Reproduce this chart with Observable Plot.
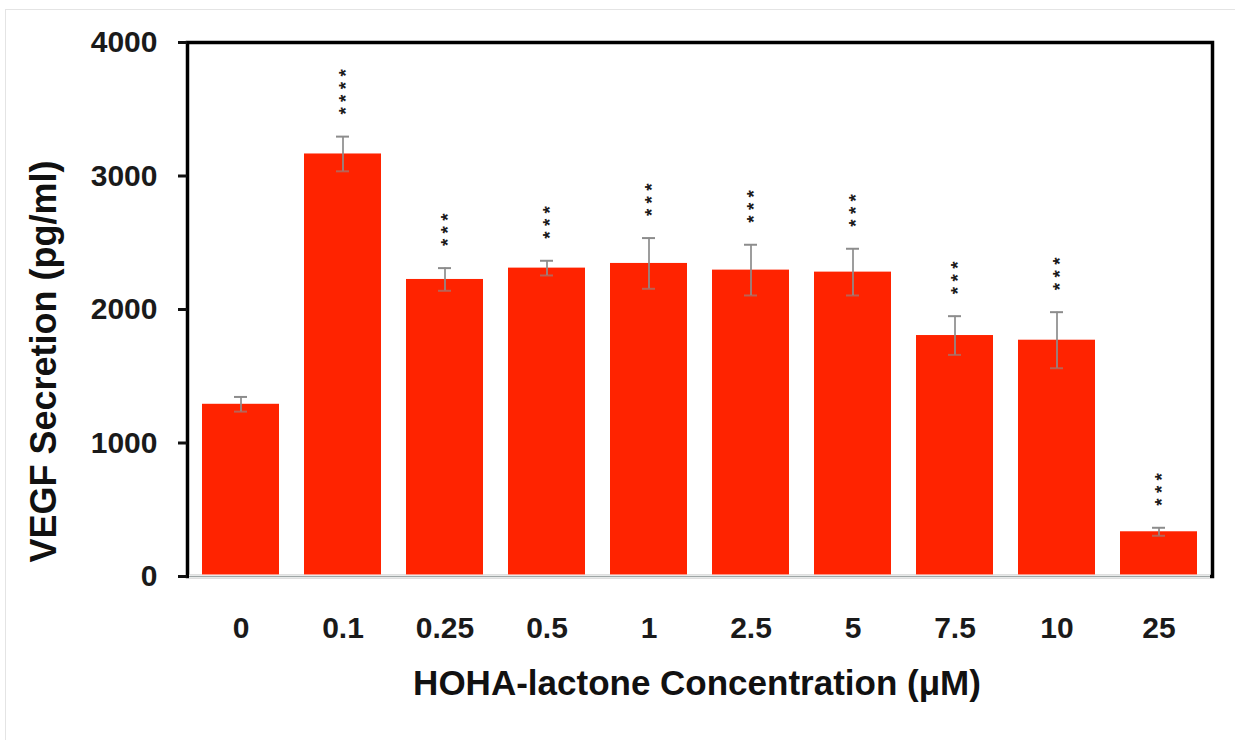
<!DOCTYPE html>
<html><head><meta charset="utf-8">
<script src="https://cdn.jsdelivr.net/npm/d3@7"></script>
<script src="https://cdn.jsdelivr.net/npm/@observablehq/plot@0.6"></script>
<style>
html,body{margin:0;padding:0;background:#fff;}
#wrap{position:relative;width:1235px;height:740px;overflow:hidden;background:#fff;}
#border{position:absolute;left:5px;top:9px;width:1300px;height:800px;border:1px solid #e4e4e4;}
#chart{position:absolute;left:0;top:0;}
</style></head><body>
<div id="wrap"><div id="border"></div><div id="chart"></div></div>
<script>
// Data
const concentrations = ["0", "0.1", "0.25", "0.5", "1", "2.5", "5", "7.5", "10", "25"];
const vegfSecretion = [1290, 3165, 2225, 2310, 2345, 2295, 2280, 1805, 1770, 335];
const errorSEM = [55, 130, 85, 55, 190, 190, 175, 145, 210, 30];
const significance = ["", "****", "***", "***", "***", "***", "***", "***", "***", "***"];
const yTicks = [0, 1000, 2000, 3000, 4000];
const xTitle = "HOHA-lactone Concentration (\u03BCM)";
const yTitle = "VEGF Secretion (pg/ml)";

const rows = concentrations.map((c, i) => ({
  conc: c, value: vegfSecretion[i], err: errorSEM[i], stars: significance[i]
}));

const font = "'Liberation Sans', Arial, Helvetica, sans-serif";

const chart = Plot.plot({
  width: 1235,
  height: 740,
  marginLeft: 187,
  marginRight: 23,
  marginTop: 42,
  marginBottom: 164,
  style: {fontFamily: font, background: "transparent", color: "#111"},
  x: {domain: concentrations, paddingInner: 0.25, paddingOuter: 0.12},
  y: {domain: [0, 4000]},
  marks: [
    Plot.frame({stroke: "#000", strokeWidth: 3.5}),
    Plot.barY(rows, {x: "conc", y: "value", fill: "#ff2300"}),
    Plot.ruleY([0], {stroke: "#fff", strokeWidth: 4, insetLeft: 2, insetRight: 2}),
    Plot.ruleY([0], {stroke: "#9fa6a6", strokeWidth: 1.5, insetLeft: 2, insetRight: 2}),
    Plot.ruleX(rows, {x: "conc", y1: d => d.value - d.err, y2: d => d.value + d.err, stroke: "#8c8c8c", strokeWidth: 2, strokeOpacity: 0.85}),
    Plot.tickY(rows, {x: "conc", y: d => d.value + d.err, stroke: "#8c8c8c", strokeWidth: 2, insetLeft: 32, insetRight: 32}),
    Plot.tickY(rows, {x: "conc", y: d => d.value - d.err, stroke: "#8c8c8c", strokeWidth: 2, strokeOpacity: 0.6, insetLeft: 32, insetRight: 32}),
    Plot.text(rows.filter(d => d.stars), {
      x: "conc", y: d => d.value + d.err,
      text: d => d.stars.split("").join(" "),
      rotate: -90, textAnchor: "start", lineAnchor: "middle",
      dy: -22, dx: 3, fontSize: 19, fontWeight: "bold", fill: "#1a1a1a"
    }),
    Plot.axisY({
      ticks: yTicks, tickSize: 9, tickPadding: 21, strokeWidth: 3,
      tickFormat: d3.format("d"), fontSize: 30, fontWeight: "bold", label: null, fill: "#1a1a1a"
    }),
    Plot.axisX({
      tickSize: 0, tickPadding: 40, fontSize: 30, fontWeight: "bold", label: null, fill: "#1a1a1a"
    }),
    Plot.text([xTitle], {
      frameAnchor: "bottom", text: d => d, dy: 107, dx: -3,
      textAnchor: "middle", lineAnchor: "middle", fontSize: 35, fontWeight: "bold", fill: "#111"
    }),
    Plot.text([yTitle], {
      frameAnchor: "left", text: d => d, rotate: -90, dx: -143, dy: 52,
      textAnchor: "middle", lineAnchor: "middle", fontSize: 36, fontWeight: "bold", fill: "#111"
    })
  ]
});
document.getElementById("chart").appendChild(chart);
</script>
</body></html>
